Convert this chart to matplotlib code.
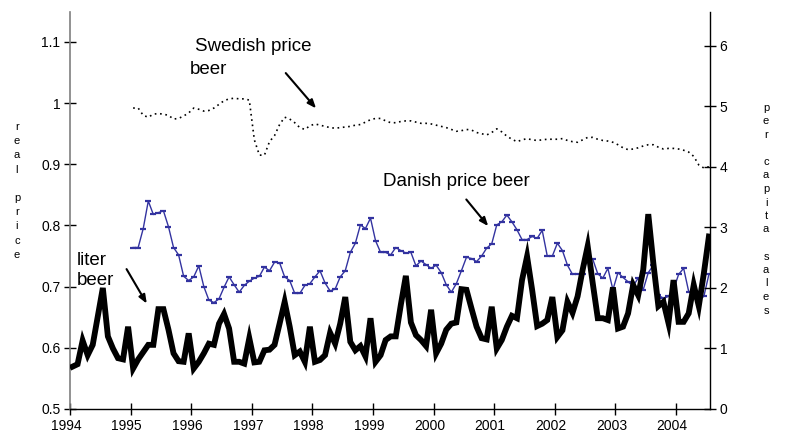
import numpy as np
import matplotlib
matplotlib.use("Agg")
import matplotlib.pyplot as plt
from matplotlib.ticker import FixedLocator, FuncFormatter
from matplotlib.transforms import ScaledTranslation

plt.rcParams["font.family"] = ["Liberation Sans", "DejaVu Sans"]

# -----------------------
# Data (monthly, Jan 1994 .. Jul 2004)
# -----------------------
start_year = 1994

liter_beer = [
    0.70, 0.74, 1.13, 0.89, 1.06, 1.53, 2.00, 1.20, 1.00, 0.84, 0.82, 1.36,
    0.67, 0.82, 0.94, 1.06, 1.06, 1.65, 1.65, 1.31, 0.92, 0.79, 0.78, 1.25,
    0.67, 0.78, 0.92, 1.08, 1.06, 1.41, 1.57, 1.33,
    0.78, 0.78, 0.75, 1.17, 0.77, 0.78, 0.97, 0.98, 1.06, 1.41, 1.77, 1.36,
    0.89, 0.95, 0.78, 1.36, 0.78, 0.81, 0.89, 1.26, 1.08, 1.41, 1.85, 1.11,
    0.97, 1.04, 0.87, 1.50, 0.78, 0.89, 1.14, 1.20,
    1.20, 1.72, 2.20, 1.43, 1.22, 1.14, 1.04, 1.64, 0.92, 1.08, 1.31, 1.41,
    1.43, 1.98, 1.97, 1.66, 1.36, 1.17, 1.15, 1.69, 1.00, 1.14, 1.36, 1.54,
    1.50, 2.13, 2.52, 1.97, 1.37, 1.41, 1.47, 1.85,
    1.19, 1.30, 1.77, 1.59, 1.86, 2.30, 2.69, 2.08, 1.50, 1.50, 1.47, 2.01,
    1.33, 1.36, 1.58, 2.05, 1.88, 2.30, 3.22, 2.41, 1.70, 1.77, 1.42, 2.13,
    1.44, 1.44, 1.58, 2.05, 1.70, 2.24, 2.85,
]

# prices start Jan 1995
price_offset = 12

danish_price = [
    0.764, 0.764, 0.795, 0.840, 0.818, 0.821, 0.824, 0.798, 0.764, 0.752, 0.717, 0.710,
    0.716, 0.734, 0.700, 0.678, 0.674, 0.680, 0.699, 0.716,
    0.703, 0.691, 0.702, 0.709, 0.714, 0.717, 0.732, 0.726, 0.740, 0.739, 0.716, 0.710,
    0.689, 0.689, 0.702, 0.705, 0.716, 0.726, 0.706, 0.693, 0.696, 0.716, 0.726, 0.756,
    0.771, 0.801, 0.795, 0.812, 0.775, 0.756, 0.756, 0.752,
    0.764, 0.759, 0.755, 0.756, 0.734, 0.742, 0.736, 0.730, 0.735, 0.723, 0.703, 0.691,
    0.705, 0.726, 0.748, 0.746, 0.741, 0.750, 0.763, 0.770, 0.801, 0.806, 0.817, 0.806,
    0.793, 0.777, 0.777, 0.782, 0.779, 0.792, 0.750, 0.750,
    0.771, 0.759, 0.735, 0.720, 0.721, 0.721, 0.746, 0.745, 0.721, 0.714, 0.730, 0.695,
    0.723, 0.715, 0.708, 0.701, 0.714, 0.695, 0.723, 0.735, 0.686, 0.681, 0.684, 0.695,
    0.720, 0.730, 0.692, 0.688, 0.679, 0.684, 0.720,
]

swedish_price = [
    0.992, 0.992, 0.980, 0.977, 0.982, 0.983, 0.982, 0.980, 0.974, 0.975, 0.979, 0.984,
    0.992, 0.990, 0.987, 0.988, 0.992, 0.998, 1.004, 1.007, 1.008, 1.007, 1.007, 1.005,
    0.940, 0.915, 0.915, 0.937, 0.947, 0.965, 0.977, 0.974, 0.968, 0.960, 0.957, 0.963,
    0.966, 0.964, 0.962, 0.960, 0.959, 0.960, 0.961, 0.962, 0.964, 0.965, 0.969, 0.973,
    0.975, 0.975, 0.971, 0.968, 0.968, 0.970, 0.971, 0.971, 0.969, 0.967, 0.967, 0.966,
    0.964, 0.962, 0.960, 0.957, 0.954, 0.955, 0.957, 0.956, 0.952, 0.950, 0.948, 0.952,
    0.958, 0.953, 0.946, 0.941, 0.937, 0.940, 0.942, 0.940, 0.939, 0.940, 0.941, 0.941,
    0.941, 0.942, 0.939, 0.937, 0.936, 0.940, 0.944, 0.944, 0.941, 0.939, 0.938, 0.936,
    0.932, 0.927, 0.924, 0.925, 0.927, 0.930, 0.932, 0.932, 0.928, 0.925, 0.926, 0.926,
    0.925, 0.923, 0.920, 0.913, 0.899, 0.894, 0.896,
]

year_ticks = list(range(1994, 2005))
price_ticks = [0.5, 0.6, 0.7, 0.8, 0.9, 1.0, 1.1]
sales_ticks = [0, 1, 2, 3, 4, 5, 6]

t_all = start_year + (np.arange(len(liter_beer)) + 0.5) / 12
t_price = t_all[price_offset:]

# -----------------------
# Figure
# -----------------------
W, H = 788, 434
fig = plt.figure(figsize=(W / 100, H / 100), dpi=100)
ax = fig.add_axes([70 / W, 25 / H, 640 / W, 397 / H])
ax2 = ax.twinx()

ax.plot(t_price, swedish_price, color="black", lw=1.2, ls=(0, (1, 2.2)))
ax.plot(t_price, danish_price, color="#3333a0", lw=1.0,
        marker="_", ms=4, mew=1.6)
ax2.plot(t_all, liter_beer, color="black", lw=4.2, solid_joinstyle="miter")

ax.set_xlim(1994, 2004.56)
ax.set_ylim(0.5, 1.149)
ax2.set_ylim(0, 6.56)

ax.xaxis.set_major_locator(FixedLocator(year_ticks))
ax.yaxis.set_major_locator(FixedLocator(price_ticks))
ax2.yaxis.set_major_locator(FixedLocator(sales_ticks))
ax.yaxis.set_major_formatter(FuncFormatter(lambda v, p: f"{v:g}"))

for a in (ax, ax2):
    a.spines["top"].set_visible(False)
    a.patch.set_visible(False)
ax.spines["right"].set_visible(False)
ax2.spines["left"].set_visible(False)
ax2.spines["bottom"].set_visible(False)
ax.spines["left"].set_color("#7f7f7f")
ax.spines["left"].set_linewidth(1.2)
ax.spines["bottom"].set_linewidth(1.0)
ax2.spines["right"].set_linewidth(1.0)

tick_kw = dict(direction="inout", length=8, width=1, labelsize=10, pad=3)
ax.tick_params(axis="x", **tick_kw)
ax.tick_params(axis="y", **tick_kw)
ax2.tick_params(axis="y", **tick_kw)

shift = ScaledTranslation(-0.04, 0, fig.dpi_scale_trans)
for lab in ax.get_xticklabels():
    lab.set_transform(lab.get_transform() + shift)

# -----------------------
# Annotations
# -----------------------
txt_kw = dict(fontsize=13.5, va="baseline", ha="left")
ax.text(1996.06, 1.0853, "Swedish price", **txt_kw)
ax.text(1995.98, 1.0477, "beer", **txt_kw)
ax.text(1999.165, 0.8646, "Danish price beer", **txt_kw)
ax.text(1994.116, 0.7354, "liter", **txt_kw)
ax.text(1994.116, 0.7027, "beer", **txt_kw)

arrow_kw = dict(arrowstyle="-|>,head_length=0.5,head_width=0.2", color="black", lw=1.5)
ax.annotate("", xy=(1998.09, 0.988), xytext=(1997.53, 1.0526), arrowprops=arrow_kw)
ax.annotate("", xy=(2000.93, 0.7954), xytext=(2000.51, 0.846), arrowprops=arrow_kw)
ax.annotate("", xy=(1995.29, 0.6684), xytext=(1994.91, 0.7326), arrowprops=arrow_kw)


# stacked letter axis titles
def stacked(x_px, y0_px, step_px, word):
    y = y0_px
    for ch in word:
        if ch != " ":
            fig.text(x_px / W, 1 - y / H, ch, fontsize=8, ha="center", va="center")
        y += step_px


stacked(17, 127, 14.2, "real price")
stacked(766, 108, 13.5, "per capita sales")

fig.savefig("out.png", dpi=100)
